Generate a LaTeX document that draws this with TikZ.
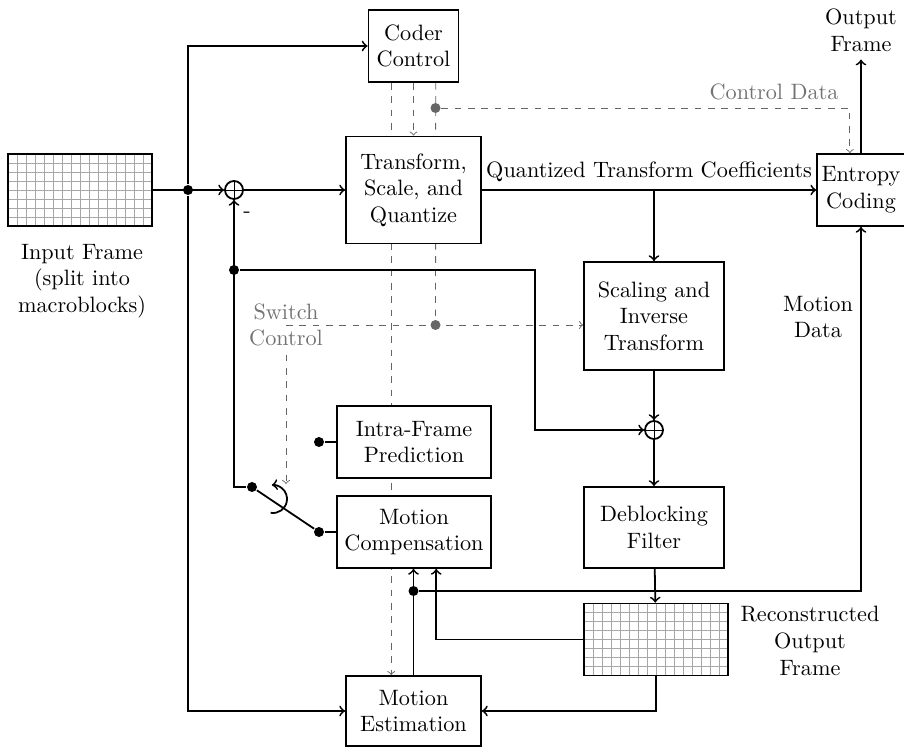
\documentclass[tikz,border=0pt]{standalone}
\usepackage{amsmath}
\usetikzlibrary{positioning,backgrounds}

\tikzset{
  gridline/.style = {gray!70, line width=0.3pt},
  ctrl/.style = {black!60, thin, dashed},
  ctrltext/.style = {black!55}
}

\begin{document}
\begin{tikzpicture}[x=0.45pt, y=-0.45pt, thick, >=to,
    every node/.style = {align=center},
    block/.style = {draw, fill=white, minimum width=60.75pt, minimum height=32.4pt, inner sep=2pt},
    dot/.style = {circle, fill, inner sep=0pt, minimum size=4.5pt},
    gdot/.style = {dot, black!60},
    sumnode/.style = {circle, draw, fill=white, minimum size=8.1pt, inner sep=0pt,
      path picture={\draw[thin] (path picture bounding box.north) -- (path picture bounding box.south)
        (path picture bounding box.west) -- (path picture bounding box.east);}},
    frame/.style = {draw, minimum width=64.8pt, minimum height=32.4pt, inner sep=0pt,
      path picture={
        \foreach \k in {1,...,15}
          \draw[gridline] ([xshift=\k*4.05pt]path picture bounding box.south west) -- ([xshift=\k*4.05pt]path picture bounding box.north west);
        \foreach \k in {1,...,7}
          \draw[gridline] ([yshift=\k*4.05pt]path picture bounding box.south west) -- ([yshift=\k*4.05pt]path picture bounding box.south east);
      }}]
  \useasboundingbox (0,0) rectangle (904,747);

  % blocks
  \node[block, minimum width=40.5pt] (coder) at (413.5,46) {Coder\\Control};
  \node[block, minimum height=48.2pt] (transform) at (413.5,190) {Transform,\\Scale, and\\Quantize};
  \node[block, minimum width=37.8pt] (entropy) at (861,190) {Entropy\\Coding};
  \node[block, minimum width=63pt, minimum height=48.6pt] (scaling) at (654,316) {Scaling and\\Inverse\\Transform};
  \node[block, minimum width=63pt, minimum height=36.5pt] (deblock) at (654,527.5) {Deblocking\\Filter};
  \node[block, minimum width=69.3pt] (intra) at (414,442) {Intra-Frame\\Prediction};
  \node[block, minimum width=69.3pt] (mc) at (414,532) {Motion\\Compensation};
  \node[block, minimum height=31.5pt] (mest) at (413.5,711) {Motion\\Estimation};

  % frames
  \node[frame] (inframe) at (80,190) {};
  \node[frame] (recon) at (656,639.5) {};
  \node (inlabel) at (82,281) {Input Frame\\(split into\\macroblocks)};
  \node (reconlabel) at (810,641) {Reconstructed\\Output\\Frame};
  \node (outlabel) at (861,30) {Output\\Frame};
  \node (mvlabel) at (818,317) {Motion\\Data};

  % adders and junctions
  \node[sumnode] (sum1) at (234,190) {};
  \node[sumnode] (sum2) at (654,430) {};
  \node at (247,215) {-};
  \node[dot] (indot) at (188,190) {};
  \node[dot] (fbdot) at (234,270) {};
  \node[dot] (mvdot) at (413.5,591) {};
  \coordinate (qbranch) at (654,190);
  \coordinate (fbturn) at (535,270);

  % switch
  \node[dot] (swin) at (252,487) {};
  \node[dot] (intradot) at (319,442) {};
  \node[dot] (mcdot) at (319,532) {};
  \draw (intradot) -- (intra);
  \draw (mcdot) -- (mc);
  \draw (swin) -- (mcdot);
  \draw[->] (270.6,512.8) arc[start angle=-100, end angle=95, radius=6.3pt];

  % data path
  \draw[->] (inframe) -- (sum1);
  \draw[->] (indot) |- (coder);
  \draw[->] (indot) |- (mest);
  \draw[->] (sum1) -- (transform);
  \draw[->] (transform) -- (entropy) node[midway, above] {Quantized Transform Coefficients};
  \draw[->] (qbranch) -- (scaling);
  \draw[->] (scaling) -- (sum2);
  \draw[->] (sum2) -- (deblock);
  \draw[->] (deblock) -- (recon);
  \draw[->] (recon.west) -| ([xshift=10pt]mc.south);
  \draw[->] (recon.south) |- (mest.east);
  \draw[->] (mest.north) -- (mest.north |- mc.south);
  \draw[->] (mvdot) -| (entropy.south);
  \draw[->] (entropy) -- (outlabel);
  \draw[->] (swin) -| (sum1);
  \draw[->] (fbdot) -- (fbturn) |- (sum2);

  % control signals
  \node[gdot] (cddot) at (435.5,108) {};
  \node[gdot] (scdot) at (435.5,325) {};
  \node[ctrltext] (cdlabel) at (774,92) {Control Data};
  \node[ctrltext] (swlabel) at (286,325) {Switch\\Control};
  \coordinate (swtip) at (286,484);
  \begin{scope}[on background layer]
    \draw[ctrl,->] (coder.south) -- (transform.north);
    \draw[ctrl,->] ([xshift=-10pt]coder.south) -- ([xshift=-10pt]coder.south |- mest.north);
    \draw[ctrl] ([xshift=10pt]coder.south) -- (scdot);
    \draw[ctrl,->] (cddot) -| ([xshift=-5pt]entropy.north);
    \draw[ctrl,->] (swlabel.center) -- (scaling.west |- swlabel.center);
    \draw[ctrl,->] (swlabel.south) -- (swtip);
  \end{scope}
\end{tikzpicture}
\end{document}
